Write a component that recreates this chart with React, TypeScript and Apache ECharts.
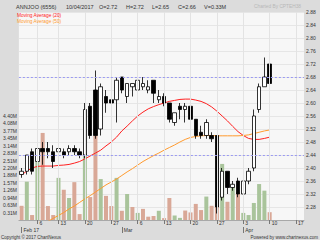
import React, { useEffect, useRef } from 'react';
import * as echarts from 'echarts';

// Trading-day categories (Feb 9 2017 was a market holiday)
const dates = [
  '2017-02-01', '2017-02-02', '2017-02-03',
  '2017-02-06', '2017-02-07', '2017-02-08', '2017-02-10',
  '2017-02-13', '2017-02-14', '2017-02-15', '2017-02-16', '2017-02-17',
  '2017-02-20', '2017-02-21', '2017-02-22', '2017-02-23', '2017-02-24',
  '2017-02-27', '2017-02-28', '2017-03-01', '2017-03-02', '2017-03-03',
  '2017-03-06', '2017-03-07', '2017-03-08', '2017-03-09', '2017-03-10',
  '2017-03-13', '2017-03-14', '2017-03-15', '2017-03-16', '2017-03-17',
  '2017-03-20', '2017-03-21', '2017-03-22', '2017-03-23', '2017-03-24',
  '2017-03-27', '2017-03-28', '2017-03-29', '2017-03-30', '2017-03-31',
  '2017-04-03', '2017-04-04', '2017-04-05', '2017-04-06', '2017-04-07',
  '2017-04-10', '2017-04-11', '2017-04-12', '2017-04-13', '2017-04-14',
  '2017-04-17', '2017-04-18',
];

const opens = [
  2.38, 2.39, 2.45, 2.42, 2.46, 2.46, 2.45, 2.45, 2.45, 2.45,
  2.46, 2.45, 2.44, 2.59, 2.64, 2.52, 2.62, 2.61, 2.61, 2.68,
  2.62, 2.65, 2.64, 2.65, 2.64, 2.67, 2.61, 2.62, 2.60, 2.54,
  2.59, 2.58, 2.59, 2.55, 2.51, 2.50, 2.50, 2.50, 2.31, 2.39,
  2.34, 2.36, 2.32, 2.36, 2.40, 2.58, 2.65, 2.72,
];
const highs = [
  2.40, 2.44, 2.46, 2.48, 2.48, 2.48, 2.47, 2.47, 2.46, 2.47,
  2.47, 2.46, 2.60, 2.60, 2.70, 2.66, 2.64, 2.63, 2.68, 2.68,
  2.66, 2.66, 2.68, 2.68, 2.67, 2.67, 2.64, 2.63, 2.60, 2.57,
  2.60, 2.60, 2.60, 2.55, 2.53, 2.55, 2.51, 2.50, 2.40, 2.39,
  2.36, 2.37, 2.37, 2.40, 2.58, 2.66, 2.74, 2.72,
];
const lows = [
  2.37, 2.38, 2.38, 2.41, 2.41, 2.43, 2.40, 2.44, 2.43, 2.44,
  2.44, 2.43, 2.43, 2.49, 2.49, 2.50, 2.57, 2.57, 2.54, 2.63,
  2.60, 2.62, 2.63, 2.64, 2.63, 2.60, 2.60, 2.59, 2.54, 2.53,
  2.55, 2.54, 2.54, 2.49, 2.49, 2.49, 2.48, 2.26, 2.30, 2.32,
  2.33, 2.31, 2.32, 2.35, 2.39, 2.57, 2.65, 2.65,
];
const closes = [
  2.39, 2.44, 2.39, 2.46, 2.45, 2.45, 2.42, 2.46, 2.44, 2.46,
  2.45, 2.44, 2.58, 2.50, 2.50, 2.65, 2.60, 2.60, 2.67, 2.64,
  2.66, 2.66, 2.67, 2.66, 2.65, 2.63, 2.62, 2.60, 2.55, 2.57,
  2.58, 2.59, 2.55, 2.50, 2.50, 2.54, 2.49, 2.28, 2.39, 2.34,
  2.35, 2.32, 2.36, 2.39, 2.56, 2.65, 2.68, 2.66,
];

const ma20 = [
  2.378, 2.391, 2.400, 2.405, 2.406, 2.406, 2.406, 2.408, 2.409, 2.411,
  2.415, 2.420, 2.428, 2.437, 2.446, 2.455, 2.468, 2.480, 2.495, 2.514,
  2.529, 2.545, 2.560, 2.572, 2.582, 2.589, 2.595, 2.600, 2.605, 2.608,
  2.611, 2.612, 2.612, 2.609, 2.605, 2.598, 2.588, 2.575, 2.560, 2.545,
  2.528, 2.512, 2.500, 2.491, 2.488, 2.488, 2.491, 2.495,
];
const ma50 = [
  2.185, 2.194, 2.205, 2.215, 2.225, 2.236, 2.245, 2.254, 2.263, 2.274,
  2.283, 2.294, 2.305, 2.315, 2.326, 2.337, 2.348, 2.357, 2.366, 2.377,
  2.388, 2.398, 2.409, 2.420, 2.429, 2.438, 2.446, 2.455, 2.463, 2.471,
  2.480, 2.488, 2.494, 2.497, 2.499, 2.500, 2.500, 2.499, 2.499, 2.499,
  2.499, 2.499, 2.500, 2.502, 2.506, 2.510, 2.514, 2.517,
];

// volume in millions of shares
const volumes = [
  0.60, 1.62, 0.21, 2.45, 3.68, 0.59, 0.21, 1.78, 1.28, 0.93,
  1.60, 0.25, 2.85, 0.97, 3.55, 1.73, 1.02, 0.59, 1.78, 0.39,
  1.10, 0.55, 0.30, 0.47, 0.14, 0.17, 0.39, 0.08, 0.93, 0.19,
  0.09, 0.40, 0.32, 0.68, 0.42, 0.99, 0.60, 0.85, 2.37, 0.77,
  1.48, 1.18, 0.30, 0.21, 0.72, 1.52, 1.24, 0.33,
];
// 1 = up day (green), -1 = down day (brown)
const volumeDir = [
  -1, 1, -1, 1, -1, -1, -1, 1, -1, 1,
  -1, -1, 1, -1, -1, 1, -1, -1, 1, -1,
  1, -1, 1, -1, -1, -1, 1, -1, -1, 1,
  1, -1, -1, -1, -1, 1, -1, -1, 1, -1,
  1, -1, 1, 1, 1, 1, 1, -1,
];

const referenceLevels = [2.68, 2.44];
const monthLabels = ['Feb 17', 'Mar', 'Apr'];
const PRICE_MIN = 2.24;
const PRICE_MAX = 2.88;
const PRICE_STEP = 0.04;
const VOL_STEP = 0.314;
const VOL_LABEL_MAX = 4.4;

const FONT = 'Liberation Sans, Arial, sans-serif';

const dayOf = (d: string) => new Date(d + 'T00:00:00Z');
const isMonday = (i: number) => dayOf(dates[i]).getUTCDay() === 1;
const isMonthStart = (i: number) =>
  i === 0 || dayOf(dates[i]).getUTCMonth() !== dayOf(dates[i - 1]).getUTCMonth();

export default function App() {
  const ref = useRef<HTMLDivElement>(null);

  useEffect(() => {
    document.body.style.margin = '0';
    const chart = echarts.init(ref.current!, null, { renderer: 'svg' });

    const mondays = dates.filter((_, i) => isMonday(i));
    const monthStarts = dates.map((_, i) => i).filter((i) => isMonthStart(i));

    const option: any = {
      animation: false,
      backgroundColor: '#dcdcdc',
      grid: {
        left: 16,
        right: 16,
        top: 12,
        bottom: 20,
        show: true,
        backgroundColor: '#f7f7f7',
        borderWidth: 0,
      },
      xAxis: [
        {
          type: 'category',
          data: dates,
          boundaryGap: true,
          axisLine: { show: true, lineStyle: { color: '#a8a8a8', width: 1 } },
          axisTick: {
            show: true,
            alignWithLabel: true,
            length: 4,
            interval: (i: number) => isMonday(i),
            lineStyle: { color: '#777' },
          },
          axisLabel: {
            show: true,
            interval: (i: number) => isMonday(i),
            formatter: (v: string) => String(dayOf(v).getUTCDate()),
            align: 'left',
            padding: [0, 0, 0, 2],
            margin: 0.5,
            fontSize: 5,
            lineHeight: 5,
            fontFamily: FONT,
            color: '#333',
          },
          splitLine: { show: false },
        },
        {
          type: 'category',
          data: dates,
          boundaryGap: true,
          position: 'bottom',
          offset: 7,
          axisLine: { show: false },
          axisTick: {
            show: true,
            alignWithLabel: true,
            length: 6,
            interval: (i: number) => isMonthStart(i),
            lineStyle: { color: '#777' },
          },
          axisLabel: {
            show: true,
            interval: (i: number) => isMonthStart(i),
            formatter: (_v: string, i: number) => monthLabels[monthStarts.indexOf(i)] ?? '',
            align: 'left',
            padding: [0, 0, 0, 2],
            margin: 0.5,
            fontSize: 5,
            lineHeight: 5,
            fontFamily: FONT,
            color: '#333',
          },
          splitLine: { show: false },
        },
      ],
      yAxis: [
        {
          type: 'value',
          position: 'right',
          min: PRICE_MIN,
          max: PRICE_MAX,
          interval: PRICE_STEP,
          axisLine: { show: false },
          axisTick: { show: false },
          axisLabel: {
            showMinLabel: false,
            formatter: (v: number) => v.toFixed(2),
            margin: 2,
            fontSize: 5,
            fontFamily: FONT,
            color: '#333',
          },
          splitLine: { show: true, lineStyle: { color: '#e6e6e6', width: 1 } },
        },
        {
          type: 'value',
          position: 'left',
          min: 0,
          max: VOL_STEP * 28,
          interval: VOL_STEP,
          axisLine: { show: false },
          axisTick: { show: false },
          axisLabel: {
            formatter: (v: number) =>
              v > 0 && v < VOL_LABEL_MAX + 0.01 ? v.toFixed(2) + 'M' : '',
            margin: 2,
            fontSize: 5,
            fontFamily: FONT,
            color: '#333',
          },
          splitLine: { show: false },
        },
      ],
      series: [
        {
          name: 'Volume',
          type: 'bar',
          xAxisIndex: 0,
          yAxisIndex: 1,
          barWidth: 4,
          z: 1,
          data: volumes.map((v, i) => ({
            value: v,
            itemStyle: { color: volumeDir[i] > 0 ? '#a9c49b' : '#d9a897' },
          })),
          markLine: {
            silent: true,
            symbol: ['none', 'none'],
            label: { show: false },
            lineStyle: { color: '#e3e3e3', type: 'solid', width: 1 },
            data: mondays.map((d) => ({ xAxis: d })),
          },
        },
        {
          name: 'Moving Average (20)',
          type: 'line',
          yAxisIndex: 0,
          data: ma20,
          showSymbol: false,
          smooth: false,
          z: 2,
          lineStyle: { color: '#ff2020', width: 1 },
        },
        {
          name: 'Moving Average (50)',
          type: 'line',
          yAxisIndex: 0,
          data: ma50,
          showSymbol: false,
          smooth: false,
          z: 2,
          lineStyle: { color: '#ff9a2e', width: 1 },
        },
        {
          name: 'ANNJOO',
          type: 'candlestick',
          yAxisIndex: 0,
          barWidth: 4,
          z: 3,
          data: opens.map((o, i) => [o, closes[i], lows[i], highs[i]]),
          itemStyle: {
            color: '#ffffff',
            color0: '#000000',
            borderColor: '#000000',
            borderColor0: '#000000',
            borderWidth: 0.8,
          },
        },
        {
          name: 'Levels',
          type: 'line',
          yAxisIndex: 0,
          data: [],
          z: 2,
          markLine: {
            silent: true,
            symbol: ['none', 'none'],
            label: { show: false },
            itemStyle: { color: '#9a9af2' },
            lineStyle: { color: '#9a9af2', type: [2, 2], width: 1, opacity: 1 },
            emphasis: { disabled: true },
            data: referenceLevels.map((v) => ({
              yAxis: v,
              lineStyle: { color: '#9a9af2' },
            })),
          },
        },
      ],
      graphic: [
        ...[
          { t: 'ANNJOO (6556)', x: 16 },
          { t: '10/04/2017', x: 66 },
          { t: 'O=2.72', x: 99 },
          { t: 'H=2.72', x: 126 },
          { t: 'L=2.65', x: 152 },
          { t: 'C=2.66', x: 178 },
          { t: 'V=0.33M', x: 204 },
        ].map((h) => ({
          type: 'text',
          x: h.x,
          y: 6.5,
          silent: true,
          style: {
            text: h.t,
            fill: '#333',
            fontSize: 5.5,
            fontFamily: FONT,
            textAlign: 'left',
            textVerticalAlign: 'middle',
            verticalAlign: 'middle',
          },
        })),
        {
          type: 'text',
          x: 301,
          y: 6.5,
          silent: true,
          style: {
            text: 'Charted By CPTEH38',
            fill: '#b8b8b8',
            fontSize: 4.8,
            fontFamily: FONT,
            textAlign: 'right',
            align: 'right',
            textVerticalAlign: 'middle',
            verticalAlign: 'middle',
          },
        },
        {
          type: 'text',
          x: 17,
          y: 15.5,
          silent: true,
          z: 10,
          style: {
            text: 'Moving Average (20)',
            fill: '#ff2020',
            fontSize: 4.8,
            fontFamily: FONT,
            textVerticalAlign: 'middle',
            verticalAlign: 'middle',
          },
        },
        {
          type: 'text',
          x: 17,
          y: 21,
          silent: true,
          z: 10,
          style: {
            text: 'Moving Average (50)',
            fill: '#ff9a2e',
            fontSize: 4.8,
            fontFamily: FONT,
            textVerticalAlign: 'middle',
            verticalAlign: 'middle',
          },
        },
        {
          type: 'text',
          x: 1,
          y: 237.8,
          silent: true,
          style: {
            text: 'Copyright © 2017 ChartNexus',
            fill: '#333',
            fontSize: 4.5,
            fontFamily: FONT,
            textVerticalAlign: 'middle',
            verticalAlign: 'middle',
          },
        },
        {
          type: 'text',
          x: 318,
          y: 237.8,
          silent: true,
          style: {
            text: 'Powered by www.chartnexus.com',
            fill: '#333',
            fontSize: 4.5,
            fontFamily: FONT,
            textAlign: 'right',
            align: 'right',
            textVerticalAlign: 'middle',
            verticalAlign: 'middle',
          },
        },
      ],
    };

    chart.setOption(option);
    return () => chart.dispose();
  }, []);

  return (
    <div
      ref={ref}
      style={{ position: 'absolute', left: 0, top: 0, width: 320, height: 240 }}
    />
  );
}
